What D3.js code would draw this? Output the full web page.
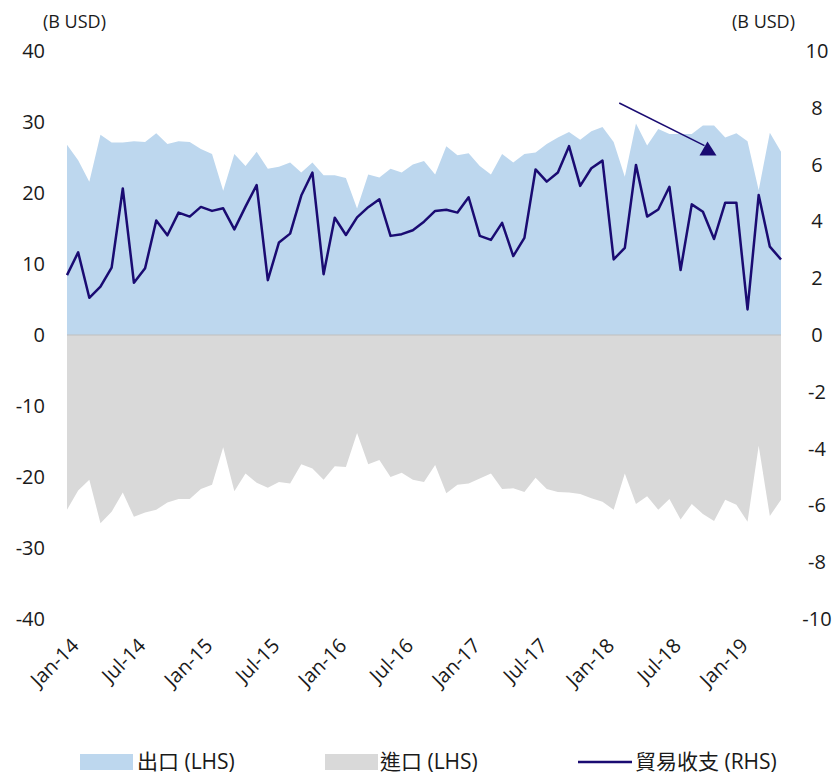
<!DOCTYPE html>
<html>
<head>
<meta charset="utf-8">
<script src="https://cdn.jsdelivr.net/npm/d3@7/dist/d3.min.js"></script>
<style>
  html, body { margin: 0; padding: 0; background: #fff; }
  svg text { font-family: "Open Sans", "Noto Sans CJK TC", sans-serif; fill: #1a1a1a; }
</style>
</head>
<body>
<svg id="chart" width="838" height="774"></svg>
<script>
// Monthly trade figures, Jan 2014 – May 2019 (billion USD)
const months = [
  "2014-01","2014-02","2014-03","2014-04","2014-05","2014-06","2014-07","2014-08","2014-09","2014-10","2014-11","2014-12",
  "2015-01","2015-02","2015-03","2015-04","2015-05","2015-06","2015-07","2015-08","2015-09","2015-10","2015-11","2015-12",
  "2016-01","2016-02","2016-03","2016-04","2016-05","2016-06","2016-07","2016-08","2016-09","2016-10","2016-11","2016-12",
  "2017-01","2017-02","2017-03","2017-04","2017-05","2017-06","2017-07","2017-08","2017-09","2017-10","2017-11","2017-12",
  "2018-01","2018-02","2018-03","2018-04","2018-05","2018-06","2018-07","2018-08","2018-09","2018-10","2018-11","2018-12",
  "2019-01","2019-02","2019-03","2019-04","2019-05"
];

// Exports (left axis)
const exportsVal = [
  26.8, 24.6, 21.6, 28.2, 27.1, 27.1, 27.3, 27.2, 28.4, 26.9, 27.3, 27.2,
  26.2, 25.5, 20.3, 25.5, 23.8, 25.8, 23.4, 23.7, 24.3, 22.9, 24.3, 22.5,
  22.5, 22.1, 17.8, 22.6, 22.2, 23.4, 22.9, 24.0, 24.5, 22.6, 26.6, 25.3,
  25.6, 23.8, 22.6, 25.5, 24.3, 25.5, 25.7, 26.9, 27.8, 28.6, 27.5, 28.7,
  29.3, 27.2, 22.3, 29.8, 26.7, 29.0, 28.3, 28.3, 28.3, 29.5, 29.5, 27.8,
  28.4, 27.3, 20.4, 28.5, 25.8
];

// Imports (left axis, shown as negative)
const importsVal = [
  -24.6, -21.9, -20.4, -26.5, -24.9, -22.2, -25.6, -25.0, -24.6, -23.6, -23.1, -23.1,
  -21.7, -21.1, -15.8, -22.0, -19.5, -20.8, -21.5, -20.7, -20.9, -18.2, -18.8, -20.4,
  -18.5, -18.6, -13.8, -18.2, -17.6, -20.0, -19.4, -20.4, -20.7, -18.3, -22.3, -21.1,
  -20.9, -20.2, -19.5, -21.7, -21.6, -22.1, -20.1, -21.7, -22.1, -22.2, -22.4, -23.0,
  -23.5, -24.6, -19.5, -23.8, -22.7, -24.6, -23.1, -26.0, -23.8, -25.2, -26.2, -23.2,
  -23.9, -26.3, -15.6, -25.5, -23.2
];

// Trade balance (right axis)
const balanceVal = [
  2.11, 2.91, 1.31, 1.70, 2.37, 5.16, 1.84, 2.35, 4.03, 3.51, 4.31, 4.17,
  4.51, 4.37, 4.46, 3.72, 4.52, 5.28, 1.93, 3.26, 3.57, 4.91, 5.72, 2.14,
  4.13, 3.52, 4.14, 4.50, 4.78, 3.49, 3.55, 3.69, 3.99, 4.37, 4.41, 4.31,
  4.85, 3.49, 3.35, 3.95, 2.78, 3.42, 5.83, 5.40, 5.72, 6.65, 5.25, 5.87,
  6.14, 2.66, 3.07, 5.99, 4.17, 4.42, 5.22, 2.29, 4.60, 4.34, 3.38, 4.66,
  4.66, 0.90, 4.93, 3.11, 2.66
];

const leftTicks = [40, 30, 20, 10, 0, -10, -20, -30, -40];
const rightTicks = [10, 8, 6, 4, 2, 0, -2, -4, -6, -8, -10];
const xTickMonths = ["2014-01","2014-07","2015-01","2015-07","2016-01","2016-07","2017-01","2017-07","2018-01","2018-07","2019-01"];
const seriesNames = ["出口 (LHS)", "進口 (LHS)", "貿易收支 (RHS)"];
const unitLabel = "(B USD)";

const colExport = "#bdd7ee";
const colImport = "#d9d9d9";
const colBalance = "#1a0b72";

const svg = d3.select("#chart");

const x = d3.scalePoint().domain(months).range([67, 781]);
const yL = d3.scaleLinear().domain([-40, 40]).range([619, 51]);
const yR = d3.scaleLinear().domain([-10, 10]).range([619, 51]);

const fmtTick = m => d3.timeFormat("%b-%y")(d3.timeParse("%Y-%m")(m));

// Export area above zero
svg.append("path")
  .datum(months.map((m, i) => [m, exportsVal[i]]))
  .attr("fill", colExport)
  .attr("d", d3.area().x(d => x(d[0])).y0(yL(0)).y1(d => yL(d[1])));

// Import area below zero
svg.append("path")
  .datum(months.map((m, i) => [m, importsVal[i]]))
  .attr("fill", colImport)
  .attr("d", d3.area().x(d => x(d[0])).y0(yL(0)).y1(d => yL(d[1])));

// Zero baseline
svg.append("line")
  .attr("x1", x(months[0])).attr("x2", x(months[months.length - 1]))
  .attr("y1", yL(0)).attr("y2", yL(0))
  .attr("stroke", "#bfbfbf").attr("stroke-width", 1);

// Trade balance line
svg.append("path")
  .datum(months.map((m, i) => [m, balanceVal[i]]))
  .attr("fill", "none")
  .attr("stroke", colBalance)
  .attr("stroke-width", 2.5)
  .attr("stroke-linejoin", "round")
  .attr("d", d3.line().x(d => x(d[0])).y(d => yR(d[1])));

// Annotation arrow
const step = x.step();
const ax1 = x("2018-02") + step * 0.5, ay1 = yR(8.17);
const ax2 = x("2018-10") + step * 0.5, ay2 = yR(6.6);
svg.append("line")
  .attr("x1", ax1).attr("y1", ay1).attr("x2", ax2 - 4).attr("y2", ay2 - 2)
  .attr("stroke", colBalance).attr("stroke-width", 1.5);
svg.append("path")
  .attr("fill", colBalance)
  .attr("d", `M${ax2 - 1},${ay2 - 6} L${ax2 - 9},${ay2 + 8} L${ax2 + 8},${ay2 + 8} Z`);

// Left axis labels
svg.append("g").selectAll("text").data(leftTicks).join("text")
  .attr("x", 45).attr("y", d => yL(d)).attr("dy", "0.35em")
  .attr("text-anchor", "end").attr("font-size", 20)
  .text(d => d);

// Right axis labels
svg.append("g").selectAll("text").data(rightTicks).join("text")
  .attr("x", 817).attr("y", d => yR(d)).attr("dy", "0.35em")
  .attr("text-anchor", "middle").attr("font-size", 20)
  .text(d => d);

// Unit labels
svg.append("text").attr("x", 43).attr("y", 28).attr("font-size", 18).text(unitLabel);
svg.append("text").attr("x", 795).attr("y", 28).attr("text-anchor", "end").attr("font-size", 18).text(unitLabel);

// X axis labels, rotated
svg.append("g").selectAll("text").data(xTickMonths).join("text")
  .attr("text-anchor", "end").attr("font-size", 20)
  .attr("transform", d => `translate(${x(d) + 13},${647}) rotate(-45)`)
  .text(fmtTick);

// Legend
const legY = 762;
const legend = svg.append("g").attr("font-size", 21);
legend.append("rect").attr("x", 80).attr("y", legY - 8).attr("width", 53).attr("height", 16).attr("fill", colExport);
legend.append("text").attr("x", 137).attr("y", legY).attr("dy", "0.35em").text(seriesNames[0]);
legend.append("rect").attr("x", 325).attr("y", legY - 8).attr("width", 53).attr("height", 16).attr("fill", colImport);
legend.append("text").attr("x", 380).attr("y", legY).attr("dy", "0.35em").text(seriesNames[1]);
legend.append("line").attr("x1", 578).attr("x2", 632).attr("y1", legY).attr("y2", legY)
  .attr("stroke", colBalance).attr("stroke-width", 2.5);
legend.append("text").attr("x", 635).attr("y", legY).attr("dy", "0.35em").text(seriesNames[2]);
</script>
</body>
</html>
